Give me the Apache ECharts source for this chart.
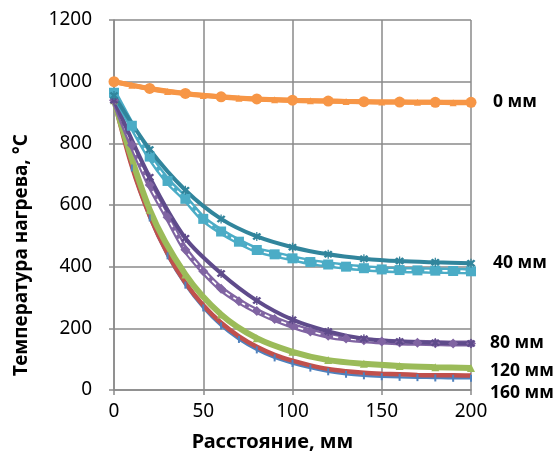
<!DOCTYPE html>
<html>
<head>
<meta charset="utf-8">
<script src="https://cdn.jsdelivr.net/npm/echarts@6/dist/echarts.min.js"></script>
<style>
  html, body { margin: 0; padding: 0; background: #fff; }
  #chart { width: 553px; height: 459px; }
</style>
</head>
<body>
<div id="chart"></div>
<script>
// Distance along the sample, mm
const x10 = [0, 10, 20, 30, 40, 50, 60, 70, 80, 90, 100, 110, 120, 130, 140, 150, 160, 170, 180, 190, 200];
const x20 = [0, 20, 40, 60, 80, 100, 120, 140, 160, 180, 200];

// Heating temperature, °C
const t0circ  = [1000, 978, 962, 951, 944, 940, 937, 935, 934, 933, 933];
const t0tri   = [1000, 988, 977, 968, 961, 955, 950, 946, 943, 941, 939, 938, 937, 936, 935, 934, 934, 933, 933, 932, 932];
const t40star = [955, 780, 648, 555, 498, 463, 440, 426, 418, 414, 411];
const t40sq   = [964, 857, 757, 678, 620, 555, 514, 481, 454, 440, 427, 415, 407, 400, 395, 391, 389, 388, 387, 386, 385];
const t80star = [940, 690, 492, 378, 290, 228, 190, 166, 157, 153, 151];
const t80dia  = [940, 795, 665, 560, 455, 385, 328, 288, 256, 230, 208, 190, 176, 167, 161, 157, 154, 153, 152, 151, 151];
const t120    = [940, 585, 375, 245, 168, 124, 97, 85, 78, 74, 71];
const t160red = [940, 725, 565, 442, 348, 275, 218, 174, 140, 114, 95, 80, 68, 61, 56, 53, 51, 49, 48, 48, 47];
const t160blu = [940, 720, 558, 435, 340, 266, 208, 164, 130, 104, 86, 71, 59, 51, 46, 43, 41, 40, 39, 38, 38];

const xTicks = [0, 50, 100, 150, 200];
const yTicks = [0, 200, 400, 600, 800, 1000, 1200];

const FONT = '"Noto Sans", "Open Sans", sans-serif';
const GRID = '#8a8a8a';
const STAR = 'path://M2,0L5,3L8,0L10,2L7,5L10,8L8,10L5,7L2,10L0,8L3,5L0,2Z M4.3,-1h1.4v12h-1.4Z';

const pairs = (xs, ys) => xs.map((x, i) => [x, ys[i]]);

function line(data, color, width, extra) {
  return Object.assign({
    type: 'line',
    data: data,
    smooth: 0.3,
    lineStyle: { color: color, width: width },
    itemStyle: { color: color },
    symbol: 'none',
    silent: true
  }, extra || {});
}

function endLabel(text, dx, dy) {
  return {
    show: true,
    formatter: text,
    offset: [dx, dy],
    color: '#000',
    fontFamily: FONT,
    fontWeight: 'bold',
    fontSize: 17.5
  };
}

function whiteDash(data) {
  return line(data, '#ffffff', 1.6, { lineStyle: { color: '#ffffff', width: 1.6, type: [5, 4] }, z: 3 });
}

const series = [
  // 160 mm
  line(pairs(x10, t160blu), '#4F81BD', 2.5, {
    symbol: 'rect', symbolSize: [2, 7], showAllSymbol: true,
    endLabel: endLabel('160 мм', 11, 15)
  }),
  line(pairs(x10, t160red), '#C0504D', 4.5),
  // 120 mm
  line(pairs(x20, t120), '#9BBB59', 6, {
    symbol: 'triangle', symbolSize: 8, showAllSymbol: true,
    endLabel: endLabel('120 мм', 11, 3)
  }),
  // 80 mm
  line(pairs(x10, t80dia), '#8064A2', 6, {
    symbol: 'diamond', symbolSize: 10, showAllSymbol: true
  }),
  whiteDash(pairs(x10, t80dia)),
  line(pairs(x20, t80star), '#5F4B8B', 4, {
    symbol: STAR, symbolSize: 9, showAllSymbol: true,
    endLabel: endLabel('80 мм', 11, 0)
  }),
  // 40 mm
  line(pairs(x10, t40sq), '#4BACC6', 6.5, {
    symbol: 'rect', symbolSize: 10, showAllSymbol: true
  }),
  whiteDash(pairs(x10, t40sq)),
  line(pairs(x20, t40star), '#31859C', 4, {
    symbol: STAR, symbolSize: 9, showAllSymbol: true,
    endLabel: endLabel('40 мм', 14, 0)
  }),
  // 0 mm
  line(pairs(x10, t0tri), '#F79646', 5, {
    symbol: 'triangle', symbolSize: 7, showAllSymbol: true
  }),
  line(pairs(x20, t0circ), '#F79646', 5, {
    symbol: 'circle', symbolSize: 11, showAllSymbol: true,
    endLabel: endLabel('0 мм', 14, 0)
  })
];

const chart = echarts.init(document.getElementById('chart'), null, { renderer: 'canvas' });
chart.setOption({
  animation: false,
  backgroundColor: '#ffffff',
  grid: { left: 114, right: 82, top: 20, bottom: 69, containLabel: false },
  xAxis: {
    type: 'value',
    min: xTicks[0], max: xTicks[xTicks.length - 1], interval: xTicks[1] - xTicks[0],
    name: 'Расстояние, мм',
    nameLocation: 'middle',
    nameGap: 42,
    nameTextStyle: { fontFamily: FONT, fontWeight: 'bold', fontSize: 20, color: '#000', padding: [0, 40, 0, 0] },
    axisLine: { lineStyle: { color: GRID, width: 1.5 } },
    axisTick: { show: true, inside: false, length: 5, lineStyle: { color: GRID, width: 1.5 } },
    splitLine: { show: true, lineStyle: { color: GRID, width: 1.5 } },
    axisLabel: { fontFamily: FONT, fontSize: 19, color: '#000', margin: 12, formatter: v => String(v) }
  },
  yAxis: {
    type: 'value',
    min: yTicks[0], max: yTicks[yTicks.length - 1], interval: yTicks[1] - yTicks[0],
    name: 'Температура нагрева, °С',
    nameLocation: 'middle',
    nameGap: 83,
    nameTextStyle: { fontFamily: FONT, fontWeight: 'bold', fontSize: 19, color: '#000', padding: [0, 100, 0, 0] },
    axisLine: { show: true, lineStyle: { color: GRID, width: 1.5 } },
    axisTick: { show: true, inside: false, length: 5, lineStyle: { color: GRID, width: 1.5 } },
    splitLine: { show: true, lineStyle: { color: GRID, width: 1.5 } },
    axisLabel: { fontFamily: FONT, fontSize: 19, color: '#000', margin: 22, formatter: v => String(v) }
  },
  series: series
});
</script>
</body>
</html>
